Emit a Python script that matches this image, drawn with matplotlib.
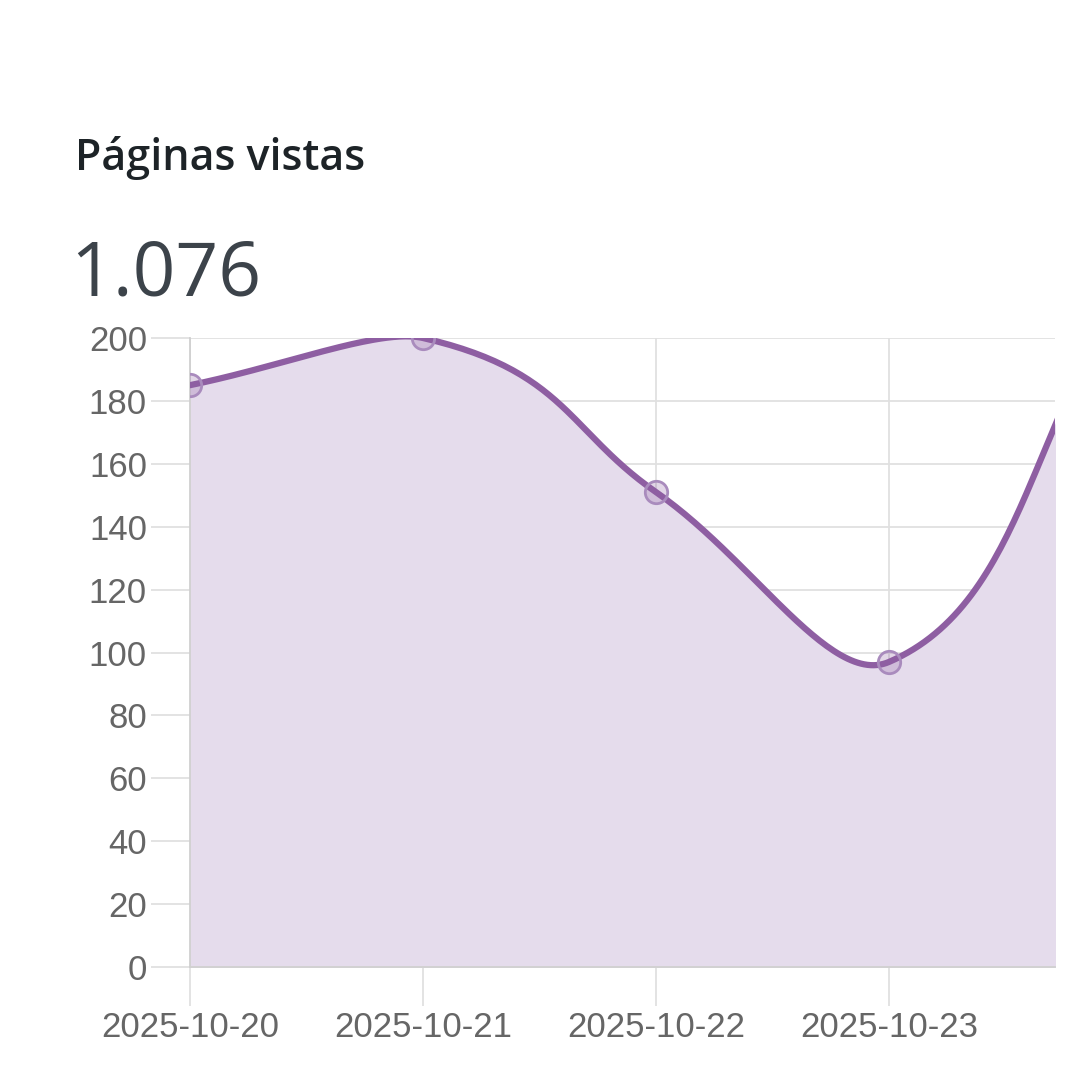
import matplotlib
matplotlib.use("Agg")
import matplotlib.pyplot as plt
import numpy as np

dates = ["2025-10-20", "2025-10-21", "2025-10-22", "2025-10-23", "2025-10-24"]
views = [185, 200, 151, 97, 215]
yticks = list(range(0, 201, 20))
title = "Páginas vistas"
total = "1.076"

def spline(xs, ys, t=0.4, n=60):
    xs = np.asarray(xs, float); ys = np.asarray(ys, float)
    px, py = [], []
    cps = []
    for i in range(len(xs)):
        p = max(i - 1, 0); q = min(i + 1, len(xs) - 1)
        d01 = np.hypot(xs[i]-xs[p], ys[i]-ys[p]); d12 = np.hypot(xs[q]-xs[i], ys[q]-ys[i])
        s = d01/(d01+d12) if d01+d12 else 0
        fa = t*s; fb = t*(1-s)
        cps.append(((xs[i]-fa*(xs[q]-xs[p]), ys[i]-fa*(ys[q]-ys[p])),
                    (xs[i]+fb*(xs[q]-xs[p]), ys[i]+fb*(ys[q]-ys[p]))))
    for i in range(len(xs)-1):
        P0 = np.array([xs[i], ys[i]]); P1 = np.array(cps[i][1]); P2 = np.array(cps[i+1][0]); P3 = np.array([xs[i+1], ys[i+1]])
        u = np.linspace(0, 1, n)[:, None]
        B = (1-u)**3*P0 + 3*(1-u)**2*u*P1 + 3*(1-u)*u**2*P2 + u**3*P3
        px.extend(B[:, 0]); py.extend(B[:, 1])
    return np.array(px), np.array(py)

xs = np.arange(len(dates))
fig = plt.figure(figsize=(10.8, 10.8), dpi=100)
ax = fig.add_axes([190/1080, 1-967/1080, (1055-190)/1080, (967-338)/1080])
cx, cy = spline(xs, views)
ax.fill_between(cx, cy, 0, color="#e5dcec", zorder=1)
ax.plot(cx, cy, color="#8e5ea2", lw=4.5, zorder=3, solid_capstyle="round")
ax.scatter(xs, views, s=260, facecolors=(0.56, 0.37, 0.64, 0.25), edgecolors="#a98bbd", linewidths=2, zorder=4)
ax.set_yticks(yticks)
ax.set_xticks(xs)
ax.set_xticklabels(dates)
ax.set_xlim(0, (1055-190)/233)
ax.set_ylim(0, 200)
ax.grid(True, color="#e0e0e0", lw=1.3, zorder=0)
ax.set_axisbelow(True)
for s in ["top", "right"]:
    ax.spines[s].set_visible(False)
for s in ["left", "bottom"]:
    ax.spines[s].set_color("#d0d0d0"); ax.spines[s].set_linewidth(1.3)
ax.tick_params(axis="both", colors="#e0e0e0", labelcolor="#666666", labelsize=25, length=28, width=1.3)
ax.tick_params(axis="x", pad=4)
ax.tick_params(axis="y", pad=3)
for lab in ax.get_xticklabels() + ax.get_yticklabels():
    lab.set_family("Liberation Sans")
fig.text(75/1080, 1-158/1080, title, fontsize=31, family="Open Sans", weight="semibold", color="#1d2327", va="center")
fig.text(70/1080, 1-276/1080, total, fontsize=54, family="Open Sans", weight="medium", color="#3c434a", va="center")
fig.savefig("out.png", dpi=100)
